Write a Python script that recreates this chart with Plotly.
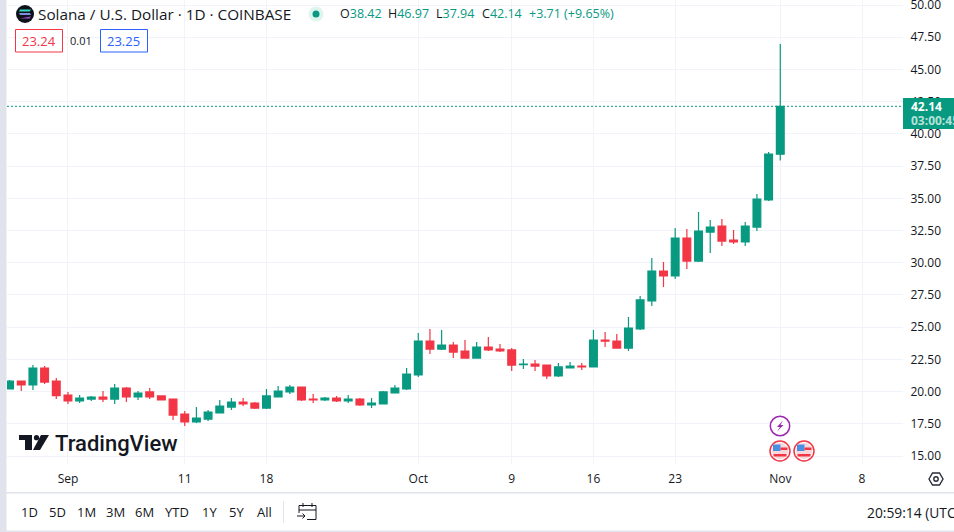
import plotly.graph_objects as go
import pandas as pd

W, H = 954, 532
start_date = "2023-08-27"
opens = [20.20,20.82,20.51,21.83,20.82,19.73,19.27,19.42,19.58,19.42,20.28,19.58,19.97,19.66,19.42,18.26,17.64,17.87,18.34,18.80,19.19,19.11,18.72,19.58,19.97,20.35,19.42,
         19.35,19.50,19.27,19.42,18.96,19.04,19.89,20.20,21.29,23.92,23.30,23.61,23.15,22.60,23.46,23.30,23.23,22.09,22.14,22.06,21.21,21.83,21.98,21.91,24.00,23.92,
         23.38,24.86,27.03,29.36,28.97,31.92,30.13,32.38,32.85,31.76,31.61,32.77,34.87,38.42]
highs = [20.90,20.82,22.06,21.98,21.05,19.97,19.73,19.66,20.04,20.59,20.35,20.04,20.28,19.66,19.42,18.49,18.80,18.57,19.35,19.50,19.50,19.19,20.20,20.43,20.51,20.35,19.81,
         19.58,19.66,19.73,19.50,19.50,20.04,20.51,21.83,24.54,24.86,24.78,23.85,24.00,23.85,24.23,23.69,23.38,22.53,22.45,22.06,22.22,22.29,22.22,24.78,24.62,24.47,
         25.79,27.42,30.36,30.05,32.69,32.62,33.93,33.31,33.39,32.54,33.16,35.33,38.59,46.97]
lows = [20.20,20.04,20.12,20.59,19.42,19.04,19.11,19.27,19.19,19.04,19.19,19.35,19.42,19.35,17.79,17.33,17.56,17.72,18.34,18.57,18.88,18.65,18.65,19.58,19.81,19.27,19.11,
        19.27,19.19,19.11,18.88,18.72,19.04,19.89,20.12,21.13,22.92,23.23,22.60,22.60,22.60,23.15,23.07,21.60,21.75,21.60,20.98,21.13,21.83,21.67,21.91,23.46,23.38,
        23.15,24.78,26.64,28.11,28.74,29.51,30.05,30.75,31.30,31.45,31.30,32.46,34.79,37.94]
closes = [20.82,20.51,21.83,20.74,19.68,19.27,19.50,19.58,19.42,20.28,19.58,19.89,19.58,19.35,18.18,17.64,17.95,18.41,18.88,19.19,19.04,18.72,19.66,20.04,20.35,19.35,19.35,
          19.50,19.27,19.42,18.96,19.11,19.97,20.28,21.36,23.92,23.30,23.61,23.07,22.60,23.46,23.23,23.15,22.06,22.14,21.98,21.21,21.91,21.98,21.91,24.00,23.92,23.38,
          24.93,27.11,29.36,28.97,31.92,30.13,32.46,32.77,31.68,31.61,32.85,34.94,38.44,42.14]
dates = pd.date_range(start_date, periods=len(opens), freq="D")

x_tick_dates = ["2023-09-01","2023-09-11","2023-09-18","2023-10-01","2023-10-09","2023-10-16","2023-10-23","2023-11-01","2023-11-08"]
x_tick_labels = ["Sep","11","18","Oct","9","16","23","Nov","8"]
y_ticks = [15,17.5,20,22.5,25,27.5,30,32.5,35,37.5,40,42.5,45,47.5,50]
range_buttons = ["1D","5D","1M","3M","6M","YTD","1Y","5Y","All"]
button_x = [29,57,86,115,144,177,209,236,264]
ohlc_labels = ["O","H","L","C"]
ohlc_values = ["38.42","46.97","37.94","42.14"]
ohlc_x = [340,388,436,482]
change_text = "+3.71 (+9.65%)"

GREEN, RED, GRID, TEXT = "#089981", "#f23645", "#f0f3fa", "#131722"
FONT = "Open Sans"
def px(x): return x / W
def py(y): return 1 - y / H

shapes, annots = [], []
def rect(x0, y0, x1, y1, fill="rgba(0,0,0,0)", line=None, lw=1, layer="above"):
    shapes.append(dict(type="rect", xref="paper", yref="paper", x0=px(x0), x1=px(x1), y0=py(y1), y1=py(y0),
                       fillcolor=fill, line=dict(color=line or "rgba(0,0,0,0)", width=lw if line else 0), layer=layer))
def circle(cx, cy, r, fill="rgba(0,0,0,0)", line=None, lw=1):
    shapes.append(dict(type="circle", xref="paper", yref="paper", x0=px(cx-r), x1=px(cx+r), y0=py(cy+r), y1=py(cy-r),
                       fillcolor=fill, line=dict(color=line or "rgba(0,0,0,0)", width=lw if line else 0), layer="above"))
def poly(points, fill="rgba(0,0,0,0)", line=None, lw=1, close=True):
    d = "M " + " L ".join(f"{px(a):.5f},{py(b):.5f}" for a, b in points) + (" Z" if close else "")
    shapes.append(dict(type="path", xref="paper", yref="paper", path=d, fillcolor=fill,
                       line=dict(color=line or "rgba(0,0,0,0)", width=lw if line else 0), layer="above"))
def text(x, y, s, size=12, color=TEXT, anchor="left", family=FONT, weight=None):
    f = dict(size=size, color=color, family=family)
    if weight: f["weight"] = weight
    annots.append(dict(xref="paper", yref="paper", x=px(x), y=py(y), text=s, showarrow=False, xanchor=anchor, yanchor="middle",
                       font=f, borderpad=0, borderwidth=0))

# page chrome
rect(0, 0, 6.5, 532, fill="#e0e3eb", layer="below")
rect(6, 492, 954, 493.5, fill="#e0e3eb", layer="below")
rect(0, 530.5, 954, 532, fill="#e0e3eb", layer="below")

# last price line and label
shapes.append(dict(type="line", xref="paper", yref="y", x0=px(7), x1=px(903), y0=closes[-1], y1=closes[-1],
                   line=dict(color=GREEN, width=1, dash="2px,2px"), layer="above"))
rect(903, 98, 954, 129, fill=GREEN)
text(911, 106.5, "<b>%.2f</b>" % closes[-1], size=12, color="#ffffff")
text(911, 120.5, "<b>03:00:45</b>", size=12, color="#b5e1d8")

# header
circle(25, 14, 9, fill="#10121a")
poly([(20,9.5),(31,9.5),(29.5,11.5),(19,11.5)], fill="#2fd8c0")
poly([(19,13),(30,13),(31,15),(20,15)], fill="#7f8fe0")
poly([(20,18.5),(31,16.5),(29.5,18.5),(19,18.5)], fill="#b04be8")
text(38, 14, "Solana / U.S. Dollar · 1D · COINBASE", size=15.3, color=TEXT)
circle(316, 14, 7.5, fill="#dff3ef")
circle(316, 14, 3.5, fill=GREEN)
for lab, val, xx in zip(ohlc_labels, ohlc_values, ohlc_x):
    text(xx, 14, f'<span style="color:{TEXT}">{lab}</span><span style="color:{GREEN}">{val}</span>', size=12.5, color=GREEN)
text(529, 14, change_text, size=12.5, color=GREEN)
shapes.append(dict(type="rect", xref="paper", yref="paper", x0=px(15.5), x1=px(62.5), y0=py(52), y1=py(29.5),
                   fillcolor="#ffffff", line=dict(color=RED, width=1), layer="above"))
text(39, 41, "23.24", size=13, color=RED, anchor="center")
text(81, 41, "0.01", size=11, color=TEXT, anchor="center")
shapes.append(dict(type="rect", xref="paper", yref="paper", x0=px(100.5), x1=px(147.5), y0=py(52), y1=py(29.5),
                   fillcolor="#ffffff", line=dict(color="#2962ff", width=1), layer="above"))
text(124, 41, "23.25", size=13, color="#2962ff", anchor="center")

# TradingView logo
poly([(19,435),(32,435),(32,450),(25,450),(25,440),(19,440)], fill=TEXT)
circle(36.5, 437.7, 2.6, fill=TEXT)
poly([(49,435),(40,450),(33,450),(41,435)], fill=TEXT)
text(55, 443, "TradingView", size=22, color=TEXT, family="Roboto", weight=500)

# events
circle(780, 426, 9.7, line="#9c27b0", lw=1.5, fill="#ffffff")
poly([(783,420.5),(777,427),(780,427),(777,431.5),(783.5,425),(780.5,425)], fill="#9c27b0")
for cx in (780, 804):
    circle(cx, 451, 10, line=RED, lw=1.5, fill="#ffffff")
    shapes.append(dict(type="circle", xref="paper", yref="paper", x0=px(cx-8), x1=px(cx+8), y0=py(459), y1=py(443),
                       fillcolor="#f7d7da", line=dict(width=0), layer="above"))
    rect(cx-7, 444.5, cx+0.5, 451, fill="#4a90e2")
    rect(cx+0.5, 447.5, cx+7.5, 450, fill=RED)
    rect(cx-6.5, 454, cx+6.5, 456.5, fill=RED)

# gear
poly([(929,479),(932.5,473),(939.5,473),(943,479),(939.5,485),(932.5,485)], line="#2a2e39", lw=1.4)
circle(936, 479, 2.2, line="#2a2e39", lw=1.4)

# bottom toolbar
for lab, xx in zip(range_buttons, button_x):
    text(xx, 512, lab, size=13, color=TEXT, anchor="center")
rect(283, 501, 284, 523, fill="#e0e3eb")
poly([(299,513),(299,505.5),(316,505.5),(316,519.5),(307,519.5)], line=TEXT, lw=1, close=False)
poly([(299,510),(316,510)], line=TEXT, lw=1, close=False)
poly([(303,503),(303,507)], line=TEXT, lw=1, close=False)
poly([(312,503),(312,507)], line=TEXT, lw=1, close=False)
poly([(297,516),(305,516)], line=TEXT, lw=1, close=False)
poly([(302.5,513.5),(305,516),(302.5,518.5)], line=TEXT, lw=1, close=False)
text(867, 512, "20:59:14 (UTC", size=13.8, color=TEXT)

fig = go.Figure(go.Candlestick(
    x=dates, open=opens, high=highs, low=lows, close=closes,
    increasing=dict(line=dict(color=GREEN, width=1.2), fillcolor=GREEN),
    decreasing=dict(line=dict(color=RED, width=1.2), fillcolor=RED),
    whiskerwidth=0, hoverinfo="skip", showlegend=False))

fig.update_layout(
    width=W, height=H, autosize=False, margin=dict(l=0, r=0, t=0, b=0),
    paper_bgcolor="#ffffff", plot_bgcolor="#ffffff", showlegend=False, boxgap=0.05,
    font=dict(family=FONT, size=12, color=TEXT), shapes=shapes, annotations=annots,
    xaxis=dict(domain=[px(7), px(903)], range=["2023-08-26 18:43", "2023-11-11 12:14"], type="date", automargin=False,
               rangeslider=dict(visible=False), tickmode="array", tickvals=x_tick_dates, ticktext=x_tick_labels,
               showgrid=True, gridcolor=GRID, gridwidth=1, zeroline=False, showline=False,
               ticks="outside", ticklen=4, tickcolor="rgba(0,0,0,0)", tickfont=dict(size=12, color=TEXT, family=FONT)),
    yaxis=dict(domain=[py(464), 1], range=[14.38, 50.39], side="right", anchor="x", automargin=False, tickmode="array",
               tickvals=y_ticks, ticktext=["%.2f" % v for v in y_ticks], showgrid=True, gridcolor=GRID, gridwidth=1,
               zeroline=False, showline=False, ticks="outside", ticklen=4, tickcolor="rgba(0,0,0,0)",
               ticklabeloverflow="allow", tickfont=dict(size=12, color=TEXT, family=FONT)),
)
fig.write_html("out.html", config=dict(displayModeBar=False),
               post_script="document.body.style.margin='0';document.body.style.overflow='hidden';")
